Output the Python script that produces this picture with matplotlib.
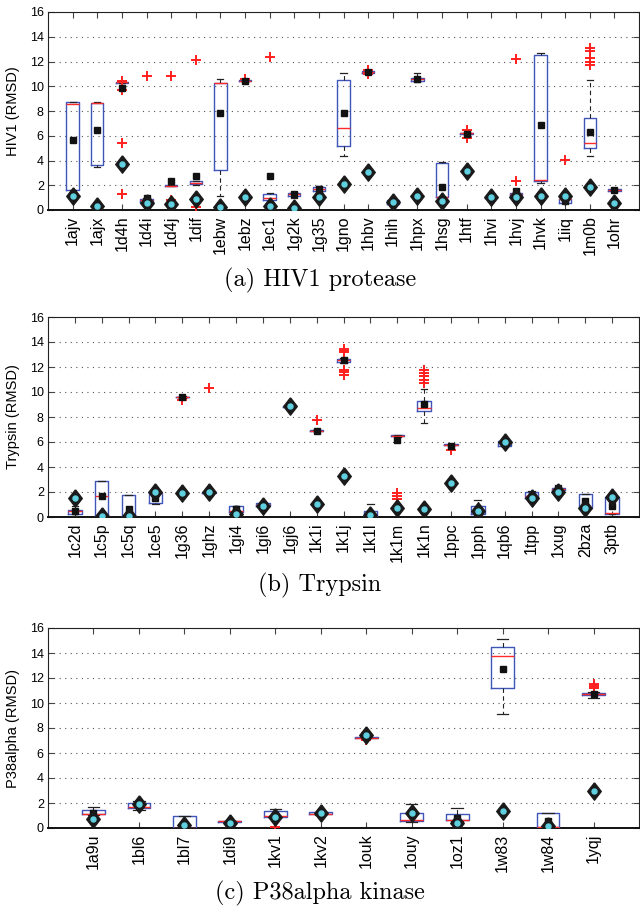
import matplotlib
matplotlib.use('Agg')
import matplotlib.pyplot as plt

# ---------------- Panel (a) HIV1 protease ----------------
hiv_names = ['1ajv', '1ajx', '1d4h', '1d4i', '1d4j', '1dif', '1ebw', '1ebz', '1ec1', '1g2k', '1g35',
             '1gno', '1hbv', '1hih', '1hpx', '1hsg', '1htf', '1hvi', '1hvj', '1hvk', '1iiq', '1m0b', '1ohr']
hiv_q1 = [1.62, 3.6, 10.3, 0.62, 1.94, 2.08, 3.23, 10.4, 0.82, 1.13, 1.56,
          5.16, 11.1, 0.5, 10.42, 1.02, 6.15, 0.98, 1.2, 2.37, 0.54, 5.05, 1.53]
hiv_med = [8.58, 8.63, 10.35, 0.78, 1.97, 2.2, 10.28, 10.45, 1.0, 1.27, 1.67,
           6.64, 11.15, 0.67, 10.6, 1.04, 6.2, 1.02, 1.27, 2.42, 0.86, 5.4, 1.61]
hiv_q3 = [8.7, 8.68, 10.38, 0.88, 2.0, 2.33, 10.3, 10.5, 1.28, 1.35, 1.82,
          10.54, 11.2, 0.8, 10.7, 3.8, 6.25, 1.06, 1.34, 12.5, 0.86, 7.47, 1.69]
hiv_wlo = [1.62, 3.5, 10.25, 0.55, 1.92, 2.05, 1.1, 10.38, 0.3, 1.0, 1.5,
           4.38, 11.05, 0.45, 10.38, 1.0, 6.1, 0.95, 1.15, 2.15, 0.5, 4.38, 1.5]
hiv_whi = [8.75, 8.72, 10.4, 1.0, 2.02, 2.38, 10.58, 10.52, 1.4, 1.48, 1.94,
           11.07, 11.25, 0.85, 11.07, 3.84, 6.3, 1.08, 1.4, 12.7, 0.9, 10.48, 1.72]
hiv_fliers = [[], [], [9.7, 10.45, 5.38, 1.32], [10.82], [10.8, 0.8], [12.13, 0.25], [], [10.62], [12.34], [], [],
              [], [11.35, 10.95], [], [], [], [6.5, 5.85], [], [12.23, 2.34], [], [4.06],
              [13.1, 12.85, 12.3, 12.0, 11.7], []]
hiv_mean = [5.68, 6.5, 9.84, 0.95, 2.38, 2.72, 7.8, 10.45, 2.75, 1.29, 1.68,
            7.8, 11.15, 0.67, 10.6, 1.83, 6.18, 1.02, 1.56, 6.83, 0.8, 6.29, 1.61]
hiv_best = [1.14, 0.35, 3.75, 0.58, 0.46, 0.86, 0.22, 1.02, 0.3, 0.2, 1.06,
            2.1, 3.04, 0.65, 1.16, 0.72, 3.17, 1.02, 1.02, 1.13, 1.16, 1.88, 0.54]

# ---------------- Panel (b) Trypsin ----------------
try_names = ['1c2d', '1c5p', '1c5q', '1ce5', '1g36', '1ghz', '1gi4', '1gi6', '1gj6', '1k1i', '1k1j',
             '1k1l', '1k1m', '1k1n', '1ppc', '1pph', '1qb6', '1tpp', '1xug', '2bza', '3ptb']
try_q1 = [0.27, 0.02, 0.05, 1.1, 9.57, 1.95, 0.4, 0.88, 8.82, 6.87, 12.38,
          0.05, 6.45, 8.5, 5.76, 0.27, 5.72, 1.52, 2.2, 0.72, 0.27]
try_med = [0.52, 1.72, 0.1, 1.92, 9.6, 1.97, 0.45, 1.0, 8.85, 6.9, 12.53,
           0.15, 6.5, 8.7, 5.8, 0.5, 6.0, 1.72, 2.27, 0.74, 0.29]
try_q3 = [0.6, 2.87, 1.78, 1.95, 9.63, 2.0, 0.85, 1.15, 8.88, 6.93, 12.68,
          0.5, 6.55, 9.25, 5.84, 0.85, 6.12, 1.97, 2.32, 1.84, 1.57]
try_wlo = [0.05, 0.0, 0.0, 1.08, 9.55, 1.93, 0.35, 0.85, 8.8, 6.85, 12.3,
           0.0, 6.42, 7.52, 5.7, 0.2, 5.7, 1.5, 2.18, 0.7, 0.25]
try_whi = [0.85, 2.9, 1.8, 1.97, 9.65, 2.02, 0.9, 1.17, 8.9, 6.95, 12.75,
           1.04, 6.58, 10.24, 5.88, 1.39, 6.15, 2.05, 2.35, 1.86, 1.6]
try_fliers = [[], [], [], [], [9.4], [10.3], [], [], [], [7.8], [13.45, 13.3, 13.2, 11.8, 11.6, 11.4],
              [], [1.95, 1.7, 1.45], [11.8, 11.5, 11.25, 11.0, 10.7], [5.4], [], [], [], [], [], []]
try_mean = [0.5, 1.65, 0.64, 1.5, 9.6, 1.97, 0.64, 0.9, 8.85, 6.9, 12.53,
            0.27, 6.2, 9.01, 5.7, 0.45, 6.0, 1.72, 2.3, 1.25, 0.85]
try_best = [1.5, 0.12, 0.05, 1.97, 1.92, 1.97, 0.27, 0.85, 8.85, 1.07, 3.25,
            0.13, 0.72, 0.64, 2.72, 0.45, 6.0, 1.52, 1.97, 0.72, 1.6]

# ---------------- Panel (c) P38alpha kinase ----------------
p38_names = ['1a9u', '1bl6', '1bl7', '1di9', '1kv1', '1kv2', '1ouk', '1ouy', '1oz1', '1w83', '1w84', '1yqj']
p38_q1 = [1.09, 1.62, 0.02, 0.5, 0.86, 1.12, 7.22, 0.6, 0.64, 11.24, 0.05, 10.63]
p38_med = [1.1, 1.7, 0.04, 0.53, 0.96, 1.15, 7.24, 0.64, 0.66, 13.74, 0.1, 10.7]
p38_q3 = [1.44, 1.97, 0.96, 0.58, 1.38, 1.27, 7.27, 1.17, 1.09, 14.48, 1.17, 10.8]
p38_wlo = [1.05, 1.45, 0.0, 0.48, 0.8, 1.05, 7.2, 0.5, 0.55, 9.1, 0.0, 10.41]
p38_whi = [1.7, 2.15, 0.98, 0.6, 1.49, 1.3, 7.3, 1.92, 1.57, 15.1, 1.2, 10.85]
p38_fliers = [[], [], [], [], [0.1], [], [7.6, 7.05], [], [], [], [], [11.55, 11.35, 11.2]]
p38_mean = [1.17, 1.89, 0.25, 0.4, 0.9, 1.22, 7.43, 1.17, 0.77, 12.75, 0.56, 10.76]
p38_best = [0.72, 1.89, 0.21, 0.37, 0.9, 1.22, 7.43, 1.17, 0.37, 1.38, 0.16, 2.98]

ylabels = ['HIV1 (RMSD)', 'Trypsin (RMSD)', 'P38alpha (RMSD)']
captions = ['(a) HIV1 protease', '(b) Trypsin', '(c) P38alpha kinase']

panels = [
    (hiv_names, hiv_q1, hiv_med, hiv_q3, hiv_wlo, hiv_whi, hiv_fliers, hiv_mean, hiv_best),
    (try_names, try_q1, try_med, try_q3, try_wlo, try_whi, try_fliers, try_mean, try_best),
    (p38_names, p38_q1, p38_med, p38_q3, p38_wlo, p38_whi, p38_fliers, p38_mean, p38_best),
]

W, H = 640, 907
fig = plt.figure(figsize=(W / 100, H / 100), dpi=100)

# axes pixel boxes: (left, top, right, bottom)
boxes_px = [(48, 12, 639, 210), (48, 317, 639, 517), (48, 628, 639, 828)]
caption_y = [280, 585, 893]

sans = ['Liberation Sans', 'DejaVu Sans']
diamond = [(0, 1), (0.78, 0), (0, -1), (-0.78, 0), (0, 1)]

for i, (data, (l, t, r, b)) in enumerate(zip(panels, boxes_px)):
    names, q1, med, q3, wlo, whi, fl, mean, best = data
    ax = fig.add_axes([l / W, 1 - b / H, (r - l) / W, (b - t) / H])
    n = len(names)
    pos = list(range(1, n + 1))
    stats = []
    for k in range(n):
        stats.append(dict(q1=q1[k], med=med[k], q3=q3[k], whislo=wlo[k], whishi=whi[k],
                          fliers=fl[k], label=names[k]))
    ax.bxp(stats, positions=pos, widths=0.5, capwidths=0.25, showfliers=True,
           boxprops=dict(color='#3f55b8', linewidth=1.0),
           medianprops=dict(color='#ff2a2a', linewidth=1.0),
           whiskerprops=dict(color='#222222', linewidth=0.8, linestyle=(0, (4, 3))),
           capprops=dict(color='#222222', linewidth=0.9),
           flierprops=dict(marker='+', markeredgecolor='#ff1f1f', markersize=7, markeredgewidth=1.4,
                           linestyle='none'),
           zorder=3)
    ax.plot(pos, mean, linestyle='none', marker='s', markersize=4.4, color='#111111', zorder=5)
    ax.plot(pos, best, linestyle='none', marker=diamond, markersize=12.5, markerfacecolor='#1a1a1a',
            markeredgecolor='#1a1a1a', zorder=6)
    ax.plot(pos, best, linestyle='none', marker='o', markersize=3.6, markerfacecolor='#5fd0e0',
            markeredgecolor='#5fd0e0', zorder=7)

    ax.set_xlim(0, n + 1)
    ax.set_ylim(0, 16)
    ax.set_yticks(range(0, 17, 2))
    ax.set_xticks(pos)
    ax.set_xticklabels(names, rotation=90, fontsize=11.5, fontfamily=sans)
    for lab in ax.get_yticklabels():
        lab.set_fontfamily(sans)
        lab.set_fontsize(9)
    ax.tick_params(direction='in', top=True, right=True, length=4, width=0.8, color='#444444')
    ax.tick_params(axis='x', pad=4)
    ax.tick_params(axis='y', pad=3)
    ax.yaxis.grid(True, linestyle=(0, (1, 4)), color='#555555', linewidth=0.8)
    ax.set_axisbelow(True)
    for side in ['left', 'top', 'right']:
        ax.spines[side].set_linewidth(0.8)
        ax.spines[side].set_color('#222222')
    ax.spines['bottom'].set_linewidth(1.4)
    ax.spines['bottom'].set_color('#111111')
    ax.set_ylabel(ylabels[i], fontsize=10.5, fontfamily=sans)
    ax.yaxis.set_label_coords(-0.047, 0.5)

    fig.text(0.5, 1 - caption_y[i] / H, captions[i], ha='center', va='center',
             fontsize=17.5, fontfamily=['cmr10', 'DejaVu Serif'])

fig.savefig('out.png', dpi=100)
